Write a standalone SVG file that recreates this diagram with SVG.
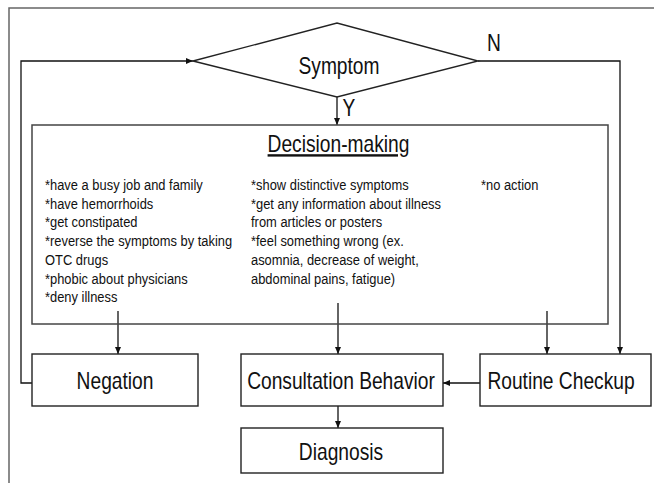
<svg xmlns="http://www.w3.org/2000/svg" width="654" height="483" viewBox="0 0 654 483">
  <style>
    .frame { fill: none; stroke: #666; stroke-width: 1.5; }
    .panel { fill: none; stroke: #444; stroke-width: 1.5; }
    .box { fill: #fff; stroke: #222; stroke-width: 1.4; }
    .wire { fill: none; stroke: #111; stroke-width: 1.3; }
    .big { font-family: "Liberation Sans", Arial, sans-serif; font-size: 24px; fill: #111; text-anchor: middle; }
    .small { font-family: "Liberation Sans", Arial, sans-serif; font-size: 14.5px; fill: #111; }
  </style>
  <defs>
    <marker id="arrow" markerUnits="userSpaceOnUse" markerWidth="8" markerHeight="7" refX="7" refY="3" orient="auto">
      <path d="M0,0 L7,3 L0,6 z" fill="#111"/>
    </marker>
  </defs>

  <rect width="654" height="483" fill="#fff"/>

  <!-- outer frame -->
  <path class="frame" d="M9,490 V8 H660"/>

  <!-- connectors -->
  <g id="connectors">
    <path class="wire" d="M32,383 H21 V61 H193" marker-end="url(#arrow)"/>
    <path class="wire" d="M478,61 H620 V354" marker-end="url(#arrow)"/>
    <path class="wire" d="M337,97 V125" marker-end="url(#arrow)"/>
    <path class="wire" d="M118,311 V354" marker-end="url(#arrow)"/>
    <path class="wire" d="M338,303 V354" marker-end="url(#arrow)"/>
    <path class="wire" d="M547,311 V354" marker-end="url(#arrow)"/>
    <path class="wire" d="M480,383 H443" marker-end="url(#arrow)"/>
    <path class="wire" d="M338,406 V428" marker-end="url(#arrow)"/>
    <text class="big" transform="translate(494,51) scale(0.8,1)">N</text>
    <text class="big" transform="translate(349,116) scale(0.8,1)">Y</text>
  </g>

  <!-- decision diamond -->
  <g id="symptom">
    <polygon class="box" points="193,61 337,23 478,61 337,97"/>
    <text class="big" transform="translate(339,74) scale(0.8,1)">Symptom</text>
  </g>

  <!-- decision-making panel -->
  <g id="decision-making">
    <rect class="panel" x="32" y="125" width="576" height="199"/>
    <text class="big" transform="translate(338.5,152) scale(0.8,1)" text-decoration="underline">Decision-making</text>
    <g transform="translate(45,0) scale(0.89,1)">
      <text class="small">
        <tspan x="0" y="190">*have a busy job and family</tspan>
        <tspan x="0" y="208.75">*have hemorrhoids</tspan>
        <tspan x="0" y="227.5">*get constipated</tspan>
        <tspan x="0" y="246.25">*reverse the symptoms by taking</tspan>
        <tspan x="0" y="265">OTC drugs</tspan>
        <tspan x="0" y="283.75">*phobic about physicians</tspan>
        <tspan x="0" y="302.5">*deny illness</tspan>
      </text>
    </g>
    <g transform="translate(251,0) scale(0.89,1)">
      <text class="small">
        <tspan x="0" y="190">*show distinctive symptoms</tspan>
        <tspan x="0" y="208.75">*get any information about illness</tspan>
        <tspan x="0" y="227.5">from articles or posters</tspan>
        <tspan x="0" y="246.25">*feel something wrong (ex.</tspan>
        <tspan x="0" y="265">asomnia, decrease of weight,</tspan>
        <tspan x="0" y="283.75">abdominal pains, fatigue)</tspan>
      </text>
    </g>
    <g transform="translate(481,0) scale(0.89,1)">
      <text class="small"><tspan x="0" y="190">*no action</tspan></text>
    </g>
  </g>

  <!-- outcome nodes -->
  <g id="negation">
    <rect class="box" x="32" y="354" width="166" height="52"/>
    <text class="big" transform="translate(115,388.5) scale(0.8,1)">Negation</text>
  </g>
  <g id="consultation">
    <rect class="box" x="241" y="354" width="202" height="52"/>
    <text class="big" transform="translate(341,388.5) scale(0.8,1)">Consultation Behavior</text>
  </g>
  <g id="routine-checkup">
    <rect class="box" x="480" y="354" width="171" height="52"/>
    <text class="big" transform="translate(561,388.5) scale(0.8,1)">Routine Checkup</text>
  </g>
  <g id="diagnosis">
    <rect class="box" x="241" y="428" width="202" height="45"/>
    <text class="big" transform="translate(341,460) scale(0.8,1)">Diagnosis</text>
  </g>
</svg>
